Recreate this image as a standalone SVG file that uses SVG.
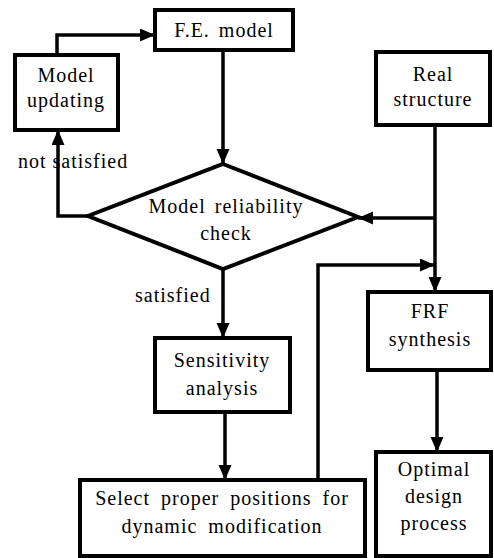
<svg xmlns="http://www.w3.org/2000/svg" width="494" height="558" viewBox="0 0 494 558">
<defs>
<style>
.box{fill:#fff;stroke:#000;stroke-width:4}
.con{fill:none;stroke:#000;stroke-width:3.5}
text{font-size:20px;letter-spacing:1px;fill:#000;text-anchor:middle}
.lbl{text-anchor:start}
</style>
<marker id="ah" markerUnits="userSpaceOnUse" markerWidth="16" markerHeight="14" refX="15" refY="6.5" orient="auto">
<path d="M0,0 L15,6.5 L0,13 z" fill="#000"/>
</marker>
</defs>
<rect width="494" height="558" fill="#fff"/>
<g font-family="'Liberation Serif', 'DejaVu Serif', serif">
<g id="connectors">
<path class="con" d="M57,55 V35 H155" marker-end="url(#ah)"/>
<path class="con" d="M223,50 V164" marker-end="url(#ah)"/>
<path class="con" d="M88,216 H58 V130" marker-end="url(#ah)"/>
<path class="con" d="M435,125 V292" marker-end="url(#ah)"/>
<path class="con" d="M435,218 H358" marker-end="url(#ah)"/>
<path class="con" d="M223,269 V338" marker-end="url(#ah)"/>
<path class="con" d="M225,412 V480" marker-end="url(#ah)"/>
<path class="con" d="M318,480 V265 H435" marker-end="url(#ah)"/>
<path class="con" d="M437,370 V452" marker-end="url(#ah)"/>
<text class="lbl" x="18" y="168">not satisfied</text>
<text class="lbl" x="135" y="302">satisfied</text>
</g>
<g id="fe-model">
<rect class="box" x="155" y="10" width="138" height="40"/>
<text x="224" y="37" word-spacing="3">F.E. model</text>
</g>
<g id="model-updating">
<rect class="box" x="15" y="55" width="103" height="75"/>
<text x="66" y="82">Model</text>
<text x="66" y="107">updating</text>
</g>
<g id="real-structure">
<rect class="box" x="376" y="52" width="114" height="73"/>
<text x="433" y="81">Real</text>
<text x="433" y="106">structure</text>
</g>
<g id="reliability-check">
<polygon class="box" points="223,164 358,217 223,269 88,216"/>
<text x="226" y="213" word-spacing="3">Model reliability</text>
<text x="226" y="240">check</text>
</g>
<g id="frf-synthesis">
<rect class="box" x="368" y="292" width="123" height="78"/>
<text x="430" y="318">FRF</text>
<text x="430" y="346">synthesis</text>
</g>
<g id="sensitivity">
<rect class="box" x="155" y="338" width="135" height="74"/>
<text x="222" y="367">Sensitivity</text>
<text x="222" y="395">analysis</text>
</g>
<g id="select-positions">
<rect class="box" x="80" y="480" width="285" height="76"/>
<text x="222" y="505" word-spacing="5">Select proper positions for</text>
<text x="222" y="533" word-spacing="5">dynamic modification</text>
</g>
<g id="optimal-design">
<rect class="box" x="376" y="452" width="115" height="104"/>
<text x="434" y="476">Optimal</text>
<text x="434" y="503">design</text>
<text x="434" y="530">process</text>
</g>
</g>
</svg>
